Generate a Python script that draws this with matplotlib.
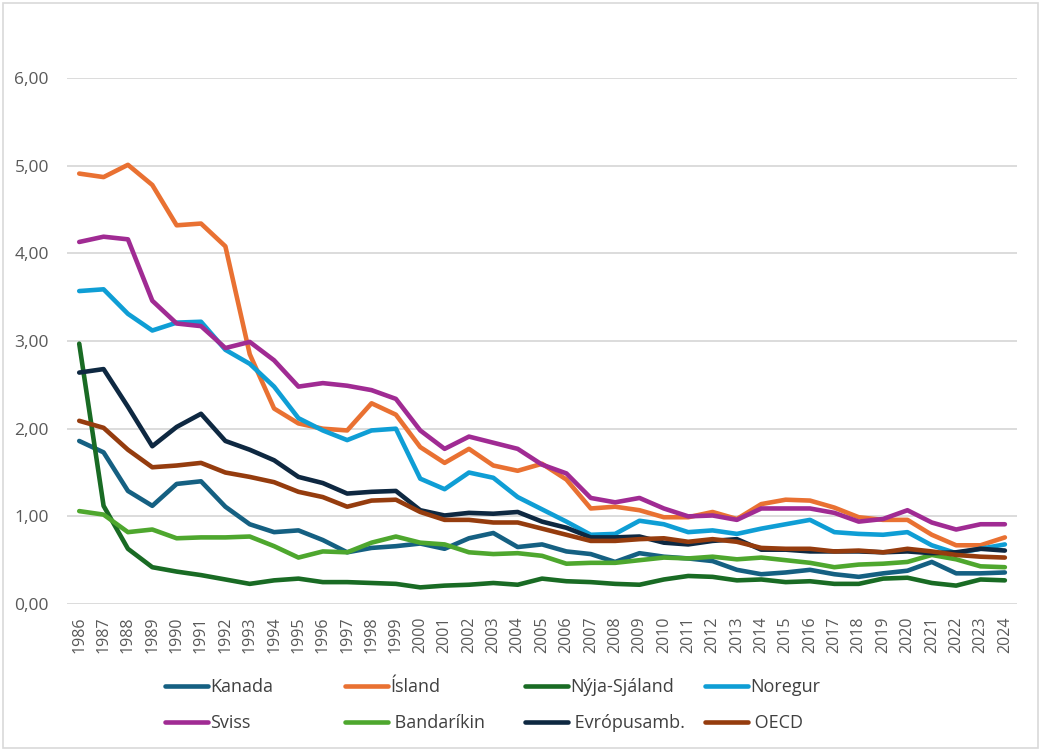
import matplotlib
matplotlib.use("Agg")
import matplotlib.pyplot as plt
from matplotlib.patches import Rectangle

years = list(range(1986, 2025))

kanada = [1.86, 1.73, 1.29, 1.12, 1.37, 1.40, 1.11, 0.91, 0.82, 0.84, 0.73, 0.59, 0.64, 0.66,
          0.69, 0.63, 0.75, 0.81, 0.65, 0.68, 0.60, 0.57, 0.48, 0.58, 0.54, 0.52, 0.49, 0.39,
          0.34, 0.36, 0.39, 0.34, 0.31, 0.35, 0.38, 0.48, 0.35, 0.35, 0.36]
island = [4.91, 4.87, 5.01, 4.78, 4.32, 4.34, 4.08, 2.85, 2.23, 2.06, 2.00, 1.98, 2.29, 2.16,
          1.79, 1.61, 1.77, 1.58, 1.52, 1.60, 1.42, 1.09, 1.11, 1.07, 0.99, 0.99, 1.05, 0.97,
          1.14, 1.19, 1.18, 1.10, 0.99, 0.96, 0.96, 0.79, 0.67, 0.67, 0.76]
nyja_sjaland = [2.97, 1.12, 0.63, 0.42, 0.37, 0.33, 0.28, 0.23, 0.27, 0.29, 0.25, 0.25, 0.24, 0.23,
                0.19, 0.21, 0.22, 0.24, 0.22, 0.29, 0.26, 0.25, 0.23, 0.22, 0.28, 0.32, 0.31, 0.27,
                0.28, 0.25, 0.26, 0.23, 0.23, 0.29, 0.30, 0.24, 0.21, 0.28, 0.27]
noregur = [3.57, 3.59, 3.31, 3.12, 3.21, 3.22, 2.90, 2.74, 2.48, 2.12, 1.98, 1.87, 1.98, 2.00,
           1.43, 1.31, 1.50, 1.44, 1.22, 1.08, 0.94, 0.79, 0.80, 0.95, 0.91, 0.82, 0.84, 0.80,
           0.86, 0.91, 0.96, 0.82, 0.80, 0.79, 0.82, 0.67, 0.58, 0.63, 0.68]
sviss = [4.13, 4.19, 4.16, 3.46, 3.20, 3.17, 2.92, 2.99, 2.78, 2.48, 2.52, 2.49, 2.44, 2.34,
         1.98, 1.77, 1.91, 1.84, 1.77, 1.59, 1.49, 1.21, 1.16, 1.21, 1.09, 1.00, 1.01, 0.96,
         1.09, 1.09, 1.09, 1.04, 0.94, 0.97, 1.07, 0.93, 0.85, 0.91, 0.91]
bandarikin = [1.06, 1.02, 0.82, 0.85, 0.75, 0.76, 0.76, 0.77, 0.66, 0.53, 0.60, 0.59, 0.70, 0.77,
              0.70, 0.68, 0.59, 0.57, 0.58, 0.55, 0.46, 0.47, 0.47, 0.50, 0.53, 0.52, 0.54, 0.51,
              0.53, 0.50, 0.47, 0.42, 0.45, 0.46, 0.48, 0.56, 0.51, 0.43, 0.42]
evropusamb = [2.64, 2.68, 2.25, 1.80, 2.02, 2.17, 1.86, 1.76, 1.64, 1.45, 1.38, 1.26, 1.28, 1.29,
              1.07, 1.01, 1.04, 1.03, 1.05, 0.94, 0.87, 0.76, 0.76, 0.77, 0.70, 0.68, 0.72, 0.74,
              0.62, 0.62, 0.60, 0.60, 0.60, 0.59, 0.60, 0.58, 0.59, 0.63, 0.61]
oecd = [2.09, 2.01, 1.76, 1.56, 1.58, 1.61, 1.50, 1.45, 1.39, 1.28, 1.22, 1.11, 1.18, 1.19,
        1.05, 0.96, 0.96, 0.93, 0.93, 0.86, 0.79, 0.72, 0.72, 0.74, 0.75, 0.71, 0.74, 0.71,
        0.64, 0.63, 0.63, 0.60, 0.61, 0.59, 0.63, 0.60, 0.56, 0.54, 0.53]

names = ["Kanada", "Ísland", "Nýja-Sjáland", "Noregur",
         "Sviss", " Bandaríkin", " Evrópusamb.", " OECD"]
series = [kanada, island, nyja_sjaland, noregur, sviss, bandarikin, evropusamb, oecd]
colors = ["#156082", "#E97132", "#196B24", "#0F9ED5",
          "#A02B93", "#4EA72E", "#0E2841", "#953C0E"]
yticks = [0, 1, 2, 3, 4, 5, 6]

plt.rcParams['font.family'] = ['Open Sans', 'DejaVu Sans']

fig = plt.figure(figsize=(10.41, 7.51), dpi=100)
ax = fig.add_axes([0.0644, 0.1957, 0.9126, 0.7004])

x = list(range(len(years)))
handles = []
# draw order: later series on top, as in the original
for name, vals, c in zip(names, series, colors):
    h, = ax.plot(x, vals, color=c, lw=3.3, solid_capstyle='round',
                 solid_joinstyle='round', label=name)
    handles.append(h)

ax.set_xlim(-0.5, len(years) - 0.5)
ax.set_ylim(0, 6)
ax.set_yticks(yticks)
ax.set_yticklabels([f"{v:.2f}".replace(".", ",") for v in yticks])
ax.set_xticks(x)
ax.set_xticklabels([str(y) for y in years], rotation=90, va='top')
ax.tick_params(axis='y', length=0, pad=13, labelsize=12.5, labelcolor='#595959')
ax.tick_params(axis='x', length=0, pad=9, labelsize=11.5, labelcolor='#595959')
ax.grid(axis='y', color='#d9d9d9', lw=1.3)
ax.set_axisbelow(True)
for s in ax.spines.values():
    s.set_visible(False)

# legend: 4 columns x 2 rows, fixed column spacing
col_x = [165, 345, 525, 705]
row_y = [687, 723]
for i, h in enumerate(handles):
    bx = col_x[i % 4] / 1041
    by = 1 - row_y[i // 4] / 751
    fig.legend(handles=[h], labels=[h.get_label()], loc='center left',
               bbox_to_anchor=(bx, by), frameon=False, fontsize=13,
               handlelength=2.4, handletextpad=0.1, borderpad=0,
               borderaxespad=0, labelcolor='#404040')

fig.add_artist(Rectangle((3 / 1041, 3 / 751), 1035 / 1041, 745 / 751,
                         transform=fig.transFigure, fill=False,
                         edgecolor='#d9d9d9', lw=1.2))

fig.savefig("out.png", dpi=100)
